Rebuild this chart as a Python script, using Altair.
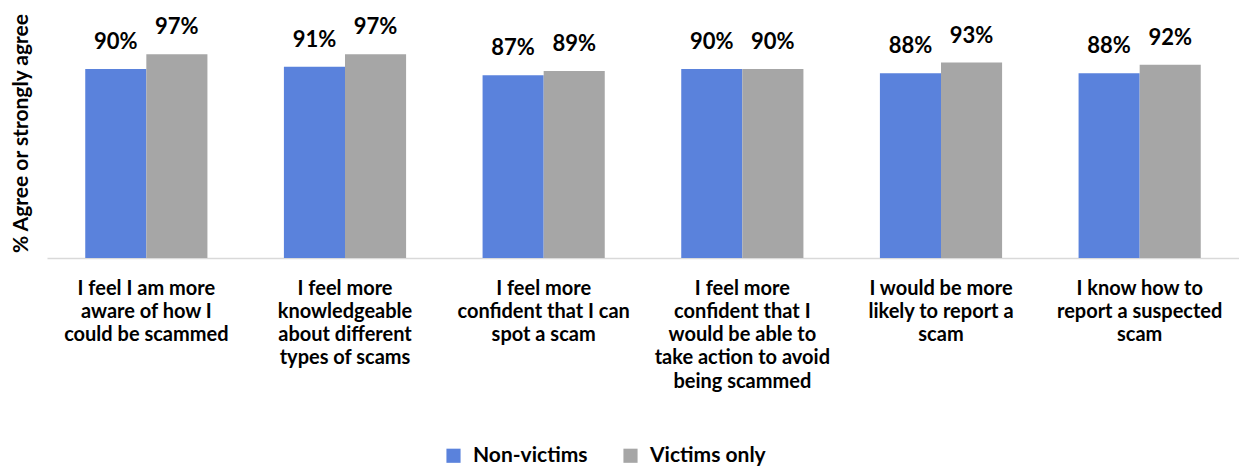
import altair as alt
import pandas as pd

categories = [
    "I feel I am more|aware of how I|could be scammed",
    "I feel more|knowledgeable|about different|types of scams",
    "I feel more|confident that I can|spot a scam",
    "I feel more|confident that I|would be able to|take action to avoid|being scammed",
    "I would be more|likely to report a|scam",
    "I know how to|report a suspected|scam",
]
series = ["Non-victims", "Victims only"]
non_victims = [90, 91, 87, 90, 88, 88]
victims_only = [97, 97, 89, 90, 93, 92]
colors = ["#5A82DC", "#A6A6A6"]

rows = []
for i, c in enumerate(categories):
    rows.append({"cat": c, "series": series[0], "value": non_victims[i], "label": f"{non_victims[i]}%"})
    rows.append({"cat": c, "series": series[1], "value": victims_only[i], "label": f"{victims_only[i]}%"})
df = pd.DataFrame(rows)

FONT = "Lato"

x_enc = alt.X(
    "cat:N",
    sort=categories,
    scale=alt.Scale(paddingInner=0.385, paddingOuter=0.1925),
    axis=alt.Axis(
        title=None,
        labelAngle=0,
        labelExpr="split(datum.value, '|')",
        labelFont=FONT,
        labelFontSize=20,
        labelFontWeight="bold",
        labelColor="#000000",
        labelLineHeight=23.3,
        labelPadding=20,
        labelLimit=300,
        ticks=False,
        domainColor="#D9D9D9",
        domainWidth=1.5,
    ),
)
y_enc = alt.Y(
    "value:Q",
    scale=alt.Scale(domain=[0, 119], nice=False, zero=True),
    axis=alt.Axis(
        title="% Agree or strongly agree",
        titleFont=FONT,
        titleFontSize=21,
        titleFontWeight="bold",
        titleColor="#000000",
        titlePadding=16,
        labels=False,
        ticks=False,
        domain=False,
        grid=False,
    ),
)

color_enc = alt.Color(
    "series:N",
    sort=series,
    scale=alt.Scale(domain=series, range=colors),
    legend=alt.Legend(
        title=None,
        orient="none",
        direction="horizontal",
        legendX=396,
        legendY=437,
        symbolType="square",
        symbolSize=200,
        symbolStrokeWidth=0,
        labelFont=FONT,
        labelFontSize=21,
        labelFontWeight="bold",
        labelColor="#000000",
        columnPadding=32,
        labelOffset=9,
        labelLimit=300,
    ),
)

bars = alt.Chart(df).mark_bar().encode(
    x=x_enc,
    xOffset=alt.XOffset("series:N", sort=series, scale=alt.Scale(paddingInner=0)),
    y=y_enc,
    color=color_enc,
)

text = alt.Chart(df).mark_text(
    font=FONT, fontSize=22, fontWeight="bold", color="#000000", baseline="bottom", dy=-15
).encode(
    x=alt.X("cat:N", sort=categories),
    xOffset=alt.XOffset("series:N", sort=series),
    y=alt.Y("value:Q"),
    text="label:N",
)

chart = (
    alt.layer(bars, text)
    .properties(width=1192, height=250, padding={"left": 1, "top": 0, "right": 0, "bottom": 0})
    .configure_view(stroke=None)
    .configure_scale(bandPaddingInner=0)
)

chart.save("out.html", embed_options={"renderer": "svg", "actions": False})
